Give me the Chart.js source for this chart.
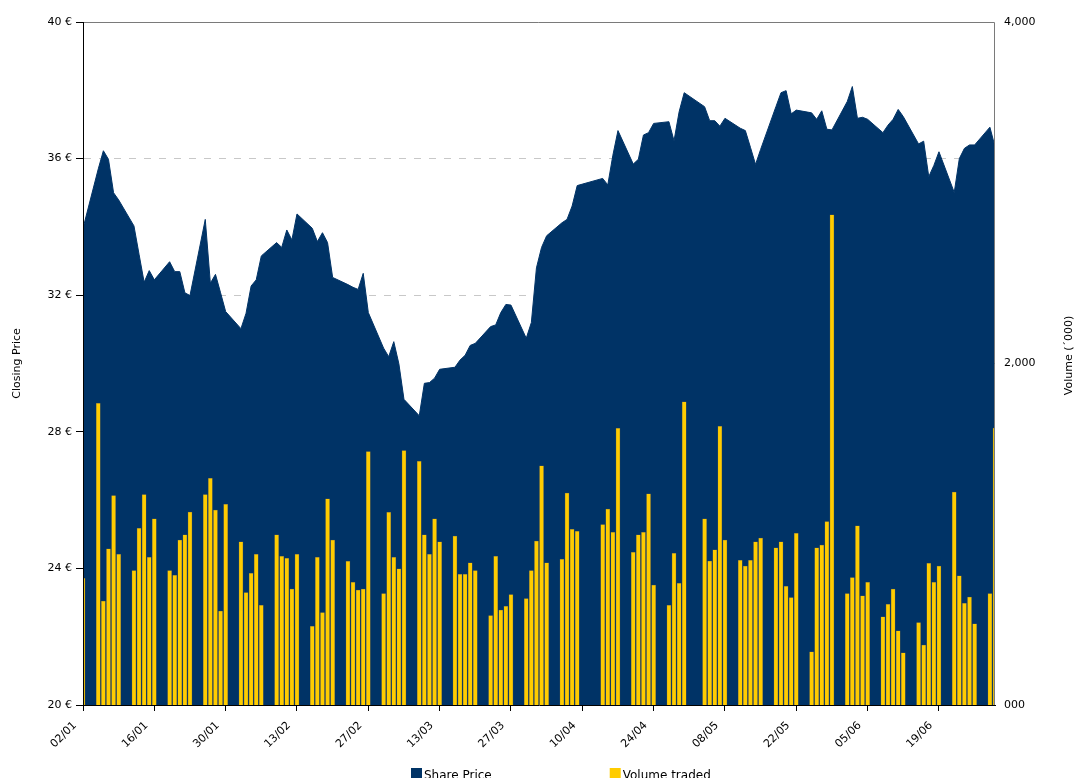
<!DOCTYPE html>
<html>
<head>
<meta charset="utf-8">
<title>Share Price and Volume traded</title>
<script src="https://cdn.jsdelivr.net/npm/chart.js@4.4.1/dist/chart.umd.min.js"></script>
<style>
  html, body { margin: 0; padding: 0; background: #fff; }
  #wrap { width: 1077px; height: 778px; }
</style>
</head>
<body>
<div id="wrap"><canvas id="priceChart"></canvas></div>
<script>
const year = 2009;

const tradeDates = [
    "02/01", "05/01", "06/01", "07/01", "08/01", "09/01", "12/01", "13/01", "14/01", "15/01", "16/01",
    "19/01", "20/01", "21/01", "22/01", "23/01", "26/01", "27/01", "28/01", "29/01", "30/01",
    "02/02", "03/02", "04/02", "05/02", "06/02", "09/02", "10/02", "11/02", "12/02", "13/02",
    "16/02", "17/02", "18/02", "19/02", "20/02", "23/02", "24/02", "25/02", "26/02", "27/02",
    "02/03", "03/03", "04/03", "05/03", "06/03", "09/03", "10/03", "11/03", "12/03", "13/03",
    "16/03", "17/03", "18/03", "19/03", "20/03", "23/03", "24/03", "25/03", "26/03", "27/03",
    "30/03", "31/03", "01/04", "02/04", "03/04", "06/04", "07/04", "08/04", "09/04",
    "14/04", "15/04", "16/04", "17/04", "20/04", "21/04", "22/04", "23/04", "24/04",
    "27/04", "28/04", "29/04", "30/04", "04/05", "05/05", "06/05", "07/05", "08/05",
    "11/05", "12/05", "13/05", "14/05", "15/05", "18/05", "19/05", "20/05", "21/05", "22/05",
    "25/05", "26/05", "27/05", "28/05", "29/05", "01/06", "02/06", "03/06", "04/06", "05/06",
    "08/06", "09/06", "10/06", "11/06", "12/06", "15/06", "16/06", "17/06", "18/06", "19/06",
    "22/06", "23/06", "24/06", "25/06", "26/06", "29/06", "30/06",
];

// closing price in €
const closingPrice = [
    33.96, 35.70, 36.23, 35.98, 35.00, 34.79, 34.03, 33.20, 32.38, 32.72, 32.45,
    32.98, 32.69, 32.69, 32.07, 31.99, 34.22, 32.35, 32.61, 32.07, 31.52,
    31.02, 31.47, 32.27, 32.45, 33.15, 33.54, 33.40, 33.91, 33.62, 34.38,
    33.96, 33.57, 33.83, 33.54, 32.52, 32.31, 32.23, 32.17, 32.64, 31.49,
    30.45, 30.20, 30.64, 29.99, 28.95, 28.47, 29.42, 29.44, 29.57, 29.83,
    29.89, 30.10, 30.24, 30.53, 30.59, 31.08, 31.13, 31.49, 31.73, 31.71,
    30.74, 31.20, 32.80, 33.40, 33.74, 34.12, 34.22, 34.61, 35.21,
    35.42, 35.23, 36.10, 36.82, 35.84, 35.98, 36.69, 36.76, 37.03,
    37.08, 36.52, 37.37, 37.93, 37.52, 37.11, 37.11, 36.95, 37.18,
    36.89, 36.82, 36.33, 35.83, 36.27, 37.52, 37.93, 37.99, 37.31, 37.42,
    37.34, 37.15, 37.40, 36.86, 36.84, 37.67, 38.11, 37.18, 37.21, 37.15,
    36.76, 36.98, 37.15, 37.44, 37.23, 36.43, 36.51, 35.47, 35.80, 36.20,
    35.01, 36.00, 36.30, 36.40, 36.40, 36.92, 36.35,
];

// volume traded in thousands of shares
const volumeTraded = [
    742, 1767, 609, 915, 1226, 882, 787, 1035, 1232, 865, 1091,
    787, 759, 966, 996, 1130, 1232, 1327, 1142, 550, 1175,
    955, 658, 771, 882, 584, 996, 871, 859, 679, 882,
    461, 865, 541, 1208, 966, 841, 718, 673, 679, 1484,
    652, 1128, 865, 798, 1490, 1427, 996, 882, 1091, 955,
    990, 765, 765, 832, 787, 523, 871, 556, 578, 646,
    623, 787, 960, 1400, 832, 853, 1241, 1029, 1017,
    1056, 1148, 1011, 1620, 894, 996, 1011, 1236, 703,
    584, 888, 712, 1776, 1091, 843, 909, 1632, 966,
    847, 814, 847, 955, 978, 921, 955, 695, 629, 1005,
    312, 921, 937, 1074, 2870, 652, 746, 1050, 640, 718,
    517, 590, 679, 435, 306, 482, 351, 830, 718, 814,
    1247, 757, 595, 632, 476, 652, 1622,
];

const seriesNames = ["Share Price", "Volume traded"];
const seriesColors = ["#003366", "#FFCC00"];

const DAY = 86400000;
const firstDay = Date.UTC(year, 0, 2);

const dayIndex = (ddmm) => {
    const [d, m] = ddmm.split("/").map(Number);
    return Math.round((Date.UTC(year, m - 1, d) - firstDay) / DAY);
};

const dayLabel = (value) => {
    const dt = new Date(firstDay + value * DAY);
    const dd = String(dt.getUTCDate()).padStart(2, "0");
    const mm = String(dt.getUTCMonth() + 1).padStart(2, "0");
    return dd + "/" + mm;
};

// Excel style "#,000"
const thousandsLabel = (value) => {
    const s = String(Math.round(value)).padStart(3, "0");
    return s.replace(/\B(?=(\d{3})+(?!\d))/g, ",");
};

const font = "'DejaVu Sans', Verdana, sans-serif";

const frameAndLegend = {
    id: "frameAndLegend",
    afterDatasetsDraw(chart) {
        const { ctx, chartArea } = chart;
        ctx.save();
        ctx.strokeStyle = "#7a7a7a";
        ctx.lineWidth = 1;
        ctx.beginPath();
        ctx.moveTo(chartArea.left, chartArea.top + 0.5);
        ctx.lineTo(chartArea.right - 0.5, chartArea.top + 0.5);
        ctx.lineTo(chartArea.right - 0.5, chartArea.bottom);
        ctx.stroke();
        ctx.restore();
    },
    afterDraw(chart) {
        const { ctx, chartArea } = chart;
        ctx.save();

        // right axis title reads bottom to top
        ctx.font = "11px " + font;
        ctx.fillStyle = "#000";
        ctx.translate(chart.width - 8, (chartArea.top + chartArea.bottom) / 2 - 8);
        ctx.rotate(-Math.PI / 2);
        ctx.textAlign = "center";
        ctx.textBaseline = "middle";
        ctx.fillText("Volume (\u00b4000)", 0, 0);
        ctx.setTransform(1, 0, 0, 1, 0, 0);

        // legend
        ctx.font = "12px " + font;
        ctx.textAlign = "left";
        ctx.textBaseline = "alphabetic";
        let x = (chartArea.left + chartArea.right) / 2 - 128;
        const boxTop = chart.height - 10;
        seriesNames.forEach((name, i) => {
            ctx.fillStyle = seriesColors[i];
            ctx.fillRect(x, boxTop, 11, 11);
            ctx.fillStyle = "#000";
            ctx.fillText(name, x + 13, chart.height + 1);
            x += 13 + ctx.measureText(name).width + 118;
        });
        ctx.restore();
    },
};

const priceData = tradeDates.map((d, i) => ({ x: dayIndex(d), y: closingPrice[i] }));
const volumeData = tradeDates.map((d, i) => ({ x: dayIndex(d), y: volumeTraded[i] }));
const lastDay = dayIndex(tradeDates[tradeDates.length - 1]);

new Chart(document.getElementById("priceChart"), {
    type: "bar",
    data: {
        datasets: [
            {
                type: "line",
                label: seriesNames[0],
                data: priceData,
                yAxisID: "y",
                backgroundColor: seriesColors[0],
                borderColor: seriesColors[0],
                borderWidth: 1,
                pointRadius: 0,
                tension: 0,
                fill: "start",
                order: 1,
            },
            {
                type: "bar",
                label: seriesNames[1],
                data: volumeData,
                yAxisID: "y1",
                backgroundColor: seriesColors[1],
                borderColor: "#6f6a4a",
                borderWidth: 0.5,
                borderSkipped: "start",
                barThickness: 4,
                order: 0,
            },
        ],
    },
    options: {
        responsive: true,
        maintainAspectRatio: false,
        animation: false,
        layout: { padding: { top: 22, left: 0, right: 0, bottom: 0 } },
        plugins: {
            legend: { display: false },
            tooltip: { enabled: false },
        },
        scales: {
            x: {
                type: "linear",
                min: 0,
                max: lastDay,
                offset: false,
                afterFit: (scale) => { scale.height = 73; },
                grid: {
                    offset: false,
                    drawOnChartArea: false,
                    tickLength: 6,
                    tickColor: "#000",
                },
                border: { color: "#000", width: 1, z: 1 },
                ticks: {
                    stepSize: 14,
                    includeBounds: false,
                    autoSkip: false,
                    minRotation: 45,
                    maxRotation: 45,
                    padding: 8,
                    labelOffset: -8,
                    color: "#000",
                    font: { family: font, size: 11 },
                    callback: (value) => dayLabel(value),
                },
            },
            y: {
                position: "left",
                min: 20,
                max: 40,
                afterFit: (scale) => { scale.width = 83; },
                grid: {
                    color: (ctx) => (ctx.tick && ctx.tick.value > 20 && ctx.tick.value < 40 ? "#c8c8c8" : "rgba(0,0,0,0)"),
                    tickColor: "#000",
                    tickLength: 7,
                    tickBorderDash: [],
                },
                border: { color: "#000", width: 1, dash: [7, 8], z: 1 },
                ticks: {
                    stepSize: 4,
                    padding: 4,
                    color: "#000",
                    font: { family: font, size: 11 },
                    callback: (value) => value + " \u20ac",
                },
                title: {
                    display: true,
                    text: "Closing Price",
                    color: "#000",
                    font: { family: font, size: 11 },
                    padding: { top: 11, bottom: 0 },
                },
            },
            y1: {
                position: "right",
                min: 0,
                max: 4000,
                afterFit: (scale) => { scale.width = 82; },
                grid: { display: false, drawOnChartArea: false, drawTicks: false },
                border: { display: false },
                ticks: {
                    stepSize: 2000,
                    padding: 9,
                    color: "#000",
                    font: { family: font, size: 11 },
                    callback: (value) => thousandsLabel(value),
                },
            },
        },
    },
    plugins: [frameAndLegend],
});
</script>
</body>
</html>
